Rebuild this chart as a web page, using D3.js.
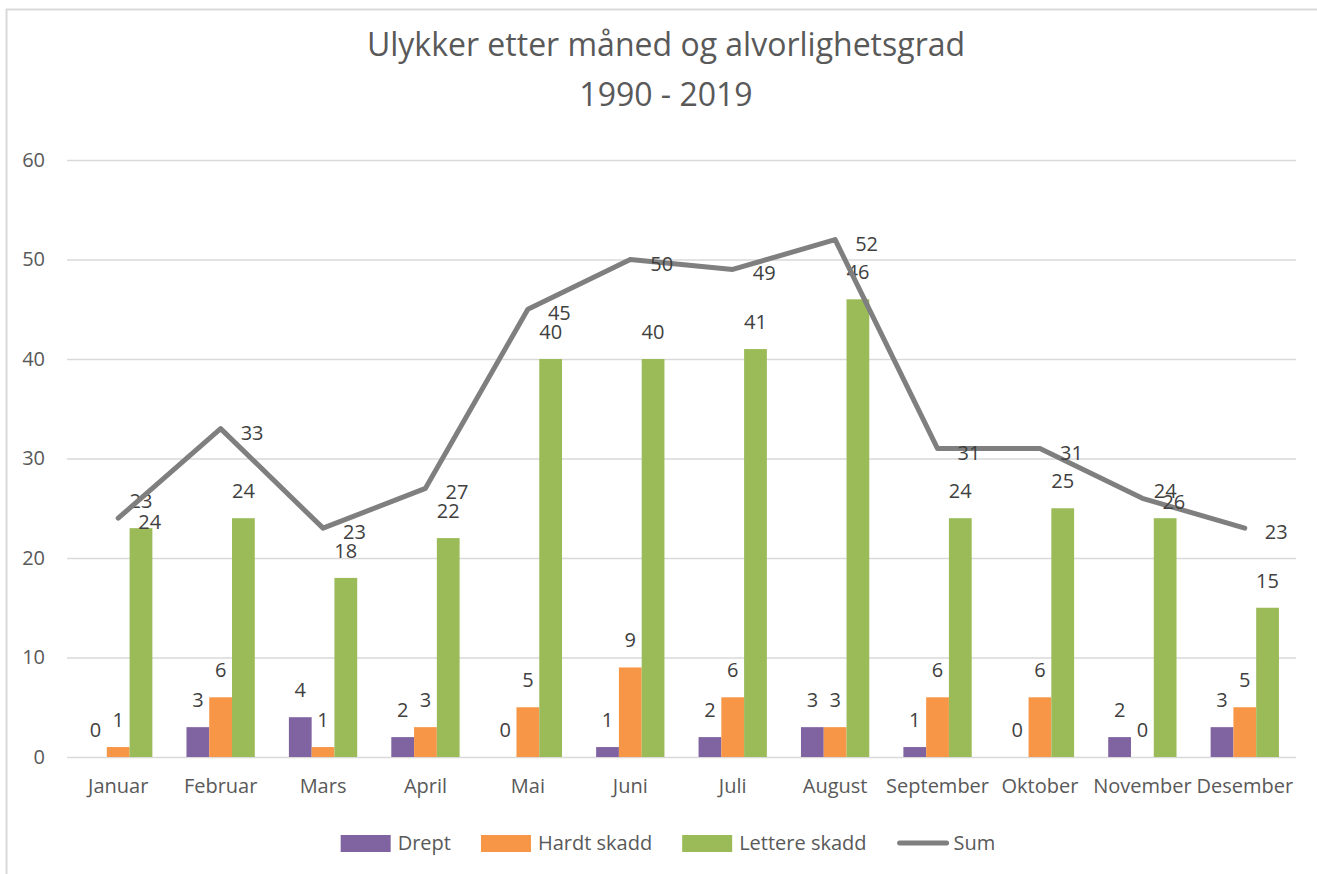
<!DOCTYPE html>
<html>
<head>
<meta charset="utf-8">
<script src="https://cdn.jsdelivr.net/npm/d3@7"></script>
<style>
  body { margin: 0; background: #fff; }
  text { font-family: 'Open Sans', sans-serif; }
</style>
</head>
<body>
<div class="chart"></div>
<script>
// ============================================================================
// Data
// ============================================================================

var months = ['Januar', 'Februar', 'Mars', 'April', 'Mai', 'Juni',
  'Juli', 'August', 'September', 'Oktober', 'November', 'Desember'];

var seriesNames = ['Drept', 'Hardt skadd', 'Lettere skadd'];
var drept = [0, 3, 4, 2, 0, 1, 2, 3, 1, 0, 2, 3];
var hardtSkadd = [1, 6, 1, 3, 5, 9, 6, 3, 6, 6, 0, 5];
var lettereSkadd = [23, 24, 18, 22, 40, 40, 41, 46, 24, 25, 24, 15];
var sum = [24, 33, 23, 27, 45, 50, 49, 52, 31, 31, 26, 23];

var yTicks = [0, 10, 20, 30, 40, 50, 60];

var colors = ['#8064a2', '#f79646', '#9bbb59'];
var lineColor = '#7f7f7f';

// ============================================================================
// Create SVG
// ============================================================================

var svgWidth = 1317;
var svgHeight = 874;

var margin = { top: 160, right: 21, bottom: 117, left: 67 };
var width = svgWidth - margin.left - margin.right;
var height = svgHeight - margin.top - margin.bottom;

var svg = d3.select('.chart')
  .append('svg')
  .attr('width', svgWidth)
  .attr('height', svgHeight);

// chart frame (top and left edges visible)
svg.append('line')
  .attr('x1', 6).attr('x2', svgWidth).attr('y1', 9.5).attr('y2', 9.5)
  .attr('stroke', '#d9d9d9').attr('stroke-width', 2);
svg.append('line')
  .attr('x1', 6.5).attr('x2', 6.5).attr('y1', 9).attr('y2', svgHeight)
  .attr('stroke', '#d9d9d9').attr('stroke-width', 2);

// title
svg.append('text')
  .attr('x', 666).attr('y', 56)
  .attr('text-anchor', 'middle')
  .attr('font-size', 32)
  .attr('fill', '#595959')
  .text('Ulykker etter måned og alvorlighetsgrad');
svg.append('text')
  .attr('x', 666).attr('y', 106)
  .attr('text-anchor', 'middle')
  .attr('font-size', 32)
  .attr('fill', '#595959')
  .text('1990 - 2019');

var chartGroup = svg.append('g')
  .attr('transform', `translate(${margin.left}, ${margin.top})`);

// ============================================================================
// Scales & axes
// ============================================================================

var xScale = d3.scaleBand()
  .domain(months)
  .range([0, width])
  .paddingInner(0.333)
  .paddingOuter(0.1665);

var xSub = d3.scaleBand()
  .domain(seriesNames)
  .range([0, xScale.bandwidth()]);

var yScale = d3.scaleLinear()
  .domain([0, 60])
  .range([height, 0]);

// gridlines
chartGroup.append('g')
  .call(d3.axisLeft(yScale).tickValues(yTicks).tickSize(-width).tickFormat(''))
  .call(g => g.select('.domain').remove())
  .selectAll('line')
  .attr('stroke', '#d9d9d9')
  .attr('stroke-width', 1.5);

// y axis labels
chartGroup.append('g')
  .call(d3.axisLeft(yScale).tickValues(yTicks).tickSize(0).tickPadding(22))
  .call(g => g.select('.domain').remove())
  .selectAll('text')
  .attr('font-size', 20)
  .attr('font-family', 'Open Sans, sans-serif')
  .attr('fill', '#595959');

// x axis labels
chartGroup.append('g')
  .attr('transform', `translate(0, ${height})`)
  .call(d3.axisBottom(xScale).tickSize(0).tickPadding(22))
  .call(g => g.select('.domain').remove())
  .selectAll('text')
  .attr('font-size', 20)
  .attr('font-family', 'Open Sans, sans-serif')
  .attr('fill', '#595959');

// ============================================================================
// Bars
// ============================================================================

var barData = months.map((m, i) => ({
  month: m,
  values: [drept[i], hardtSkadd[i], lettereSkadd[i]].map((v, j) => ({ key: seriesNames[j], value: v, idx: j }))
}));

var groups = chartGroup.selectAll('.group')
  .data(barData)
  .enter()
  .append('g')
  .attr('transform', d => `translate(${xScale(d.month)}, 0)`);

groups.selectAll('rect')
  .data(d => d.values)
  .enter()
  .append('rect')
  .attr('x', d => xSub(d.key))
  .attr('width', xSub.bandwidth())
  .attr('y', d => yScale(d.value))
  .attr('height', d => height - yScale(d.value))
  .attr('fill', d => colors[d.idx]);

groups.selectAll('.bar-label')
  .data(d => d.values)
  .enter()
  .append('text')
  .attr('x', d => xSub(d.key) + xSub.bandwidth() / 2)
  .attr('y', d => yScale(d.value) - 20)
  .attr('text-anchor', 'middle')
  .attr('font-size', 20)
  .attr('fill', '#404040')
  .text(d => d.value);

// ============================================================================
// Sum line
// ============================================================================

var cx = m => xScale(m) + xScale.bandwidth() / 2;

var line = d3.line()
  .x((d, i) => cx(months[i]))
  .y(d => yScale(d));

chartGroup.append('path')
  .datum(sum)
  .attr('d', line)
  .attr('fill', 'none')
  .attr('stroke', lineColor)
  .attr('stroke-width', 5)
  .attr('stroke-linejoin', 'round')
  .attr('stroke-linecap', 'round');

chartGroup.selectAll('.sum-label')
  .data(sum)
  .enter()
  .append('text')
  .attr('x', (d, i) => cx(months[i]) + 20)
  .attr('y', d => yScale(d) + 11)
  .attr('font-size', 20)
  .attr('fill', '#404040')
  .text(d => d);

// ============================================================================
// Legend
// ============================================================================

var legend = svg.append('g');
var legendItems = seriesNames.concat(['Sum']);
var lx = 0;
legendItems.forEach(function(name, i) {
  var item = legend.append('g').attr('transform', `translate(${lx}, 0)`);
  if (i < 3) {
    item.append('rect')
      .attr('x', 0).attr('y', -8)
      .attr('width', 50).attr('height', 17)
      .attr('fill', colors[i]);
  } else {
    item.append('line')
      .attr('x1', 3).attr('x2', 50).attr('y1', 0).attr('y2', 0)
      .attr('stroke', lineColor)
      .attr('stroke-width', 5)
      .attr('stroke-linecap', 'round');
  }
  var t = item.append('text')
    .attr('x', 57).attr('y', 7)
    .attr('font-size', 20)
    .attr('fill', '#595959')
    .text(name);
  lx += 57 + t.node().getComputedTextLength() + 30;
});
var legendWidth = lx - 30;
legend.attr('transform', `translate(${668 - legendWidth / 2}, 843)`);
</script>
</body>
</html>
